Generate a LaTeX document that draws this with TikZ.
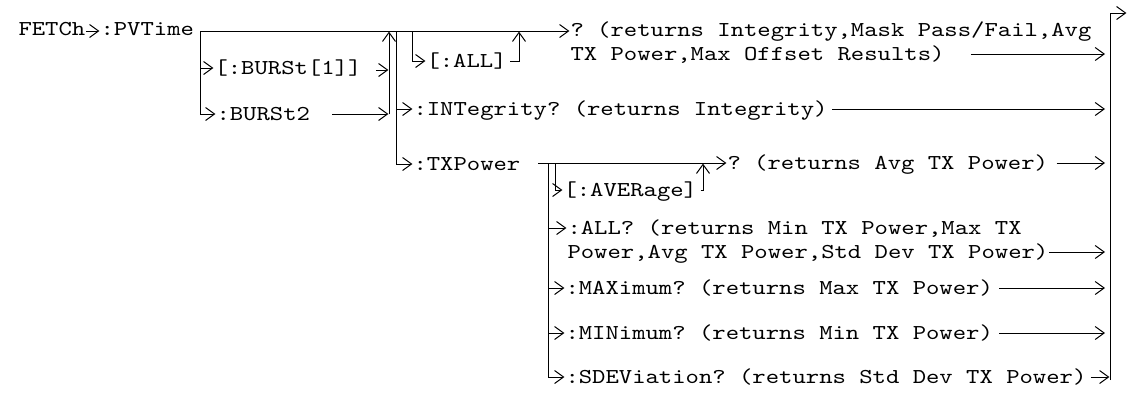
\documentclass[tikz,border=0pt]{standalone}
\usepackage{fontspec}
\setmonofont[FakeStretch=1.2]{Latin Modern Mono}
\usetikzlibrary{arrows.meta}
\begin{document}
\begin{tikzpicture}[x=0.5pt,y=-0.5pt,line width=0.5pt,
  lbl/.style={inner sep=0pt,anchor=west,text height=8.4pt,text depth=2pt,
    font=\ttfamily\fontsize{10.6}{13}\selectfont},
  arr/.style={-{Straight Barb[length=4.5pt,width=6.5pt]},shorten >=0.3pt}]
\useasboundingbox (0,0) rectangle (1129,393);
% text nodes
\node[lbl] (fetch) at (18,29) {FETCh};
\node[lbl] (pvtime) at (100,29) {:PVTime};
\node[lbl] (b1) at (214,68) {[:BURSt[1]]};
\node[lbl] (b2) at (216,114) {:BURSt2};
\node[lbl] (all) at (426,61) {[:ALL]};
\node[lbl] (q1a) at (570,30) {? (returns Integrity,Mask Pass/Fail,Avg};
\node[lbl] (q1b) at (570,54) {TX Power,Max Offset Results)};
\node[lbl] (integ) at (413,109) {:INTegrity? (returns Integrity)};
\node[lbl] (txp) at (413,164) {:TXPower};
\node[lbl] (avg) at (563,190) {[:AVERage]};
\node[lbl] (q2) at (727,163) {? (returns Avg TX Power)};
\node[lbl] (all2a) at (567,228) {:ALL? (returns Min TX Power,Max TX};
\node[lbl] (all2b) at (567,252) {Power,Avg TX Power,Std Dev TX Power)};
\node[lbl] (max) at (565,288) {:MAXimum? (returns Max TX Power)};
\node[lbl] (min) at (565,333) {:MINimum? (returns Min TX Power)};
\node[lbl] (sdev) at (565,377) {:SDEViation? (returns Std Dev TX Power)};
% junction coordinates
\coordinate (v1t) at (200,31);
\coordinate (v2t) at (389,31);
\coordinate (v3t) at (396,31);
\coordinate (v4t) at (412,31);
\coordinate (v5t) at (519,31);
\coordinate (t0) at (538,163);
\coordinate (v6t) at (548,163);
\coordinate (v7t) at (555,163);
\coordinate (v8t) at (703,163);
\coordinate (rb) at (1110,13);
\coordinate (rbb) at (1110,380);
\coordinate (rbout) at (1127,13);
% connectors
\draw[arr] ([yshift=-1pt]fetch.east) -- ([yshift=-1pt]pvtime.west);
\draw[arr] (v1t) -- (v1t -| q1a.west);
\draw[arr] (v1t) |- (b2.west);
\draw[arr] (v1t |- b1.west) -- (b1.west);
\draw[arr] ([xshift=7pt,yshift=-1pt]b1.east) -- ([yshift=-1pt]b1.east -| v2t);
\draw[arr] ([xshift=11pt]b2.east) -- (b2.east -| v2t);
\draw[arr] (b2.east -| v2t) -- (v2t);
\draw[arr] (v3t) |- (txp.west);
\draw[arr] (v3t |- integ.west) -- (integ.west);
\draw[arr] (v4t) |- (all.west);
\draw[arr] ([xshift=1.5pt]all.east) -| (v5t);
\draw[arr,shorten >=2.5pt] ([xshift=13pt]q1b.east) -- (q1b.east -| rb);
\draw[arr,shorten >=2.5pt] ([xshift=2pt]integ.east) -- (integ.east -| rb);
\draw[arr] (t0) -- (q2.west);
\draw[arr] (v6t) |- (sdev.west);
\draw[arr] (v6t |- all2a.west) -- (all2a.west);
\draw[arr] (v6t |- max.west) -- (max.west);
\draw[arr] (v6t |- min.west) -- (min.west);
\draw[arr] (v7t) |- (avg.west);
\draw[arr] ([xshift=1.5pt]avg.east) -| (v8t);
\draw[arr,shorten >=2.5pt] ([xshift=4pt]q2.east) -- (q2.east -| rb);
\draw[arr,shorten >=2.5pt] (all2b.east) -- (all2b.east -| rb);
\draw[arr,shorten >=2.5pt] ([xshift=3pt]max.east) -- (max.east -| rb);
\draw[arr,shorten >=2.5pt] ([xshift=3pt]min.east) -- (min.east -| rb);
\draw[arr] ([xshift=2pt]sdev.east) -- (sdev.east -| rb);
\draw[arr] (rbb) -- (rb) -- (rbout);
\end{tikzpicture}
\end{document}
